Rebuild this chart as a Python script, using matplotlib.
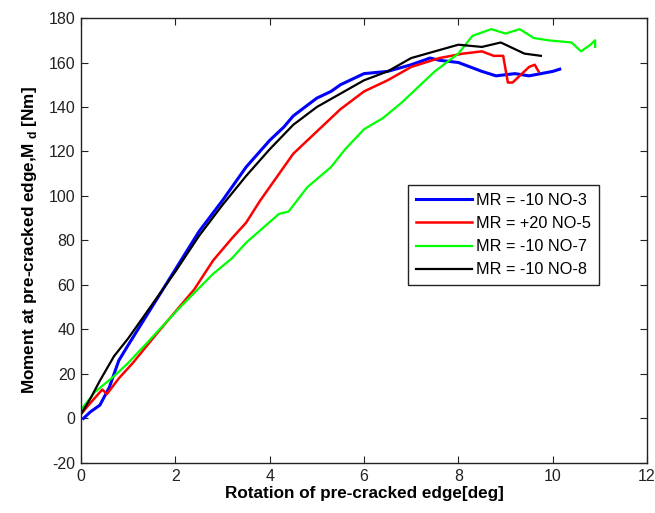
import matplotlib
matplotlib.use("Agg")
import matplotlib.pyplot as plt

plt.rcParams['font.family'] = ['Liberation Sans', 'DejaVu Sans']
plt.rcParams['mathtext.fontset'] = 'custom'
plt.rcParams['mathtext.rm'] = 'Liberation Sans'
plt.rcParams['mathtext.bf'] = 'Liberation Sans:bold'
plt.rcParams['axes.unicode_minus'] = False

# Series data (rotation [deg], moment [Nm])
x_no3 = [0.05, 0.2, 0.4, 0.6, 0.8, 1.0, 1.5, 2.0, 2.5, 3.0, 3.5, 4.0, 4.3, 4.5, 5.0, 5.3, 5.5, 6.0,
         6.5, 7.0, 7.4, 7.6, 8.0, 8.5, 8.8, 9.2, 9.5, 10.0, 10.15]
y_no3 = [0, 3, 6, 14, 26, 33, 50, 67, 84, 98, 113, 125, 131, 136, 144, 147, 150, 155,
         156, 159, 162, 161, 160, 156, 154, 155, 154, 156, 157]

x_no5 = [0.0, 0.2, 0.45, 0.55, 0.8, 1.1, 1.6, 2.0, 2.4, 2.8, 3.2, 3.5, 3.8, 4.5, 5.1, 5.5, 6.0,
         6.5, 7.0, 7.6, 8.1, 8.5, 8.75, 8.95, 9.05, 9.15, 9.3, 9.5, 9.62, 9.7]
y_no5 = [2, 7, 13, 11, 18, 25, 38, 48, 58, 71, 81, 88, 98, 119, 131, 139, 147,
         152, 158, 162, 164, 165, 163, 163, 151, 151, 154, 158, 159, 156]

x_no7 = [0.0, 0.3, 0.7, 1.0, 1.4, 2.1, 2.8, 3.2, 3.5, 4.2, 4.4, 4.8, 5.3, 5.6, 6.0, 6.4, 6.8,
         7.0, 7.5, 8.0, 8.3, 8.7, 9.0, 9.3, 9.6, 9.9, 10.4, 10.6, 10.8, 10.9, 10.9]
y_no7 = [4, 12, 19, 25, 34, 50, 65, 72, 79, 92, 93, 104, 113, 121, 130, 135, 142,
         146, 156, 164, 172, 175, 173, 175, 171, 170, 169, 165, 168, 170, 167]

x_no8 = [0.0, 0.2, 0.4, 0.7, 1.0, 1.5, 2.0, 2.5, 3.0, 3.5, 4.0, 4.5, 5.0, 5.5, 6.0, 6.5, 7.0,
         7.5, 8.0, 8.5, 8.9, 9.1, 9.4, 9.75]
y_no8 = [2, 9, 17, 28, 36, 51, 66, 82, 96, 109, 121, 132, 140, 146, 152, 156, 162,
         165, 168, 167, 169, 167, 164, 163]

labels = ['MR = -10 NO-3', 'MR = +20 NO-5', 'MR = -10 NO-7', 'MR = -10 NO-8']
xticks = [0, 2, 4, 6, 8, 10, 12]
yticks = [-20, 0, 20, 40, 60, 80, 100, 120, 140, 160, 180]

fig = plt.figure(figsize=(6.55, 5.13), dpi=100)
ax = fig.add_axes([0.1237, 0.0975, 0.8641, 0.8674])

ax.plot(x_no3, y_no3, color='#0000ff', lw=2.2, label=labels[0])
ax.plot(x_no5, y_no5, color='#ff0000', lw=1.8, label=labels[1])
ax.plot(x_no7, y_no7, color='#00ff00', lw=1.6, label=labels[2])
ax.plot(x_no8, y_no8, color='#000000', lw=1.6, label=labels[3])

ax.set_xlim(0, 12)
ax.set_ylim(-20, 180)
ax.set_xticks(xticks)
ax.set_yticks(yticks)
ax.tick_params(direction='in', top=True, right=True, length=5, labelsize=11.5,
               colors='#222222', labelcolor='#222222', pad=4)
for s in ax.spines.values():
    s.set_color('#222222')
    s.set_linewidth(1.0)

ax.set_xlabel('Rotation of pre-cracked edge[deg]', fontsize=12.3, fontweight='bold', labelpad=2)
ax.set_ylabel(r'Moment at pre-cracked edge,M$_{\mathbf{\ d}}$ [Nm]', fontsize=12.3,
              fontweight='bold', labelpad=7)

leg = ax.legend(loc='upper left', bbox_to_anchor=(0.578, 0.625), fontsize=11.7,
                frameon=True, fancybox=False, handlelength=3.4, handletextpad=0.3,
                borderpad=0.5, labelspacing=0.5, borderaxespad=0)
leg.get_frame().set_edgecolor('#222222')
leg.get_frame().set_linewidth(1.0)
leg.get_frame().set_alpha(1)

fig.savefig('out.png', dpi=100)
